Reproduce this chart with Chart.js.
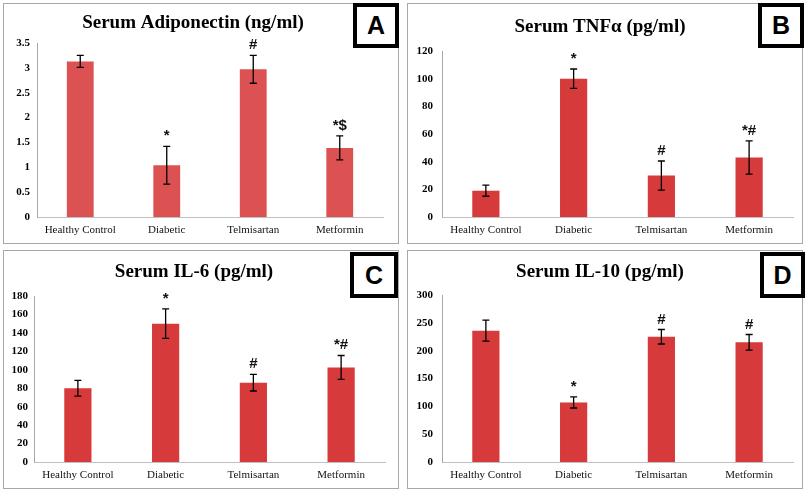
<!DOCTYPE html>
<html>
<head>
<meta charset="utf-8">
<script src="https://cdn.jsdelivr.net/npm/chart.js@4"></script>
<style>
  body { margin: 0; background: #fff; width: 809px; height: 490px; position: relative; overflow: hidden; }
  canvas { position: absolute; }
  .frame { position: absolute; border: 1.5px solid #a8a8a8; box-sizing: border-box; pointer-events: none; }
  .tag { position: absolute; border: 4px solid #000; background: #fff; box-sizing: border-box;
         font: bold 25px "Liberation Sans", Arial, sans-serif; display: flex; align-items: center; justify-content: center; }
</style>
</head>
<body>
<canvas id="chartA" width="396" height="240" style="left:3px;top:3px"></canvas>
<canvas id="chartB" width="396" height="240" style="left:407px;top:3px"></canvas>
<canvas id="chartC" width="396" height="238" style="left:3px;top:250px"></canvas>
<canvas id="chartD" width="396" height="238" style="left:407px;top:250px"></canvas>

<div class="frame" style="left:3px;top:3px;width:396px;height:241px"></div>
<div class="frame" style="left:407px;top:3px;width:396px;height:241px"></div>
<div class="frame" style="left:3px;top:250px;width:396px;height:239px"></div>
<div class="frame" style="left:407px;top:250px;width:396px;height:239px"></div>

<div class="tag" style="left:353px;top:3px;width:46px;height:45px">A</div>
<div class="tag" style="left:758px;top:3px;width:46px;height:45px">B</div>
<div class="tag" style="left:350px;top:252px;width:48px;height:46px">C</div>
<div class="tag" style="left:760px;top:252px;width:45px;height:46px">D</div>

<script>
const categories = ['Healthy Control', 'Diabetic', 'Telmisartan', 'Metformin'];

// A - adiponectin (ng/ml)
const adiponectin = [3.13, 1.04, 2.97, 1.39];
const adiponectinErr = [0.12, 0.38, 0.28, 0.24];
const adiponectinMarks = ['', '*', '#', '*$'];
const adiponectinAxis = [0, 3.5, 0.5];

// B - TNF alpha (pg/ml)
const tnfa = [19, 100, 30, 43];
const tnfaErr = [4, 7, 10.5, 12];
const tnfaMarks = ['', '*', '#', '*#'];
const tnfaAxis = [0, 120, 20];

// C - IL-6 (pg/ml)
const il6 = [80, 150, 86, 102.5];
const il6Err = [8.5, 16, 9, 13];
const il6Marks = ['', '*', '#', '*#'];
const il6Axis = [0, 180, 20];

// D - IL-10 (pg/ml)
const il10 = [236, 107, 225, 215];
const il10Err = [19, 10, 13, 14];
const il10Marks = ['', '*', '#', '#'];
const il10Axis = [0, 300, 50];

// draws the whiskers and the significance marks above them
const errorBars = {
  id: 'errorBars',
  afterDatasetsDraw(chart, args, opts) {
    const ctx = chart.ctx;
    const x = chart.scales.x, y = chart.scales.y;
    const vals = chart.data.datasets[0].data;
    ctx.save();
    ctx.strokeStyle = '#000';
    ctx.lineWidth = 1.3;
    vals.forEach((v, i) => {
      const e = opts.errors[i];
      const cx = x.getPixelForValue(i);
      const top = y.getPixelForValue(v + e);
      const bot = y.getPixelForValue(v - e);
      ctx.beginPath();
      ctx.moveTo(cx, top); ctx.lineTo(cx, bot);
      ctx.moveTo(cx - 3.5, top); ctx.lineTo(cx + 3.5, top);
      ctx.moveTo(cx - 3.5, bot); ctx.lineTo(cx + 3.5, bot);
      ctx.stroke();
      if (opts.marks[i]) {
        ctx.fillStyle = '#111';
        ctx.font = 'bold 15px "Liberation Sans", Arial, sans-serif';
        ctx.textAlign = 'center';
        ctx.textBaseline = 'alphabetic';
        ctx.fillText(opts.marks[i], cx, top - 6);
      }
    });
    ctx.restore();
  }
};

function makeChart(id, title, values, errors, marks, axis, color, lay) {
  return new Chart(document.getElementById(id), {
    type: 'bar',
    data: {
      labels: categories,
      datasets: [{
        data: values,
        backgroundColor: color,
        barPercentage: 0.31,
        categoryPercentage: 1
      }]
    },
    plugins: [errorBars],
    options: {
      responsive: false,
      animation: false,
      layout: { padding: { left: 0, right: lay.right, top: 0, bottom: 0 } },
      plugins: {
        legend: { display: false },
        tooltip: { enabled: false },
        title: {
          display: true,
          text: title,
          color: '#000',
          font: { family: '"Liberation Serif", "Times New Roman", serif', size: 19, weight: 'bold', lineHeight: 1.2 },
          padding: { top: lay.pt, bottom: lay.pb }
        },
        errorBars: { errors: errors, marks: marks }
      },
      scales: {
        x: {
          grid: { display: false, drawTicks: false },
          border: { color: '#c0c0c0', width: 1 },
          ticks: {
            padding: 7,
            color: '#111',
            font: { family: '"Liberation Serif", "Times New Roman", serif', size: 11 }
          },
          afterFit: s => { s.height = 26; }
        },
        y: {
          min: axis[0],
          max: axis[1],
          grid: { display: false, drawTicks: false },
          border: { color: '#a8a8a8', width: 1 },
          ticks: {
            stepSize: axis[2],
            padding: lay.tp,
            color: '#000',
            font: { family: '"Liberation Serif", "Times New Roman", serif', size: 11, weight: 'bold' },
            callback: v => String(v)
          },
          afterFit: s => { s.width = lay.left; }
        }
      }
    }
  });
}

makeChart('chartA', 'Serum Adiponectin (ng/ml)', adiponectin, adiponectinErr, adiponectinMarks, adiponectinAxis,
  '#dc5151', { left: 34, right: 16, pt: 8.6, pb: 8.6, tp: 7 });
makeChart('chartB', 'Serum TNF\u03b1 (pg/ml)', tnfa, tnfaErr, tnfaMarks, tnfaAxis,
  '#d63a3a', { left: 35, right: 10, pt: 12.6, pb: 12.6, tp: 9 });
makeChart('chartC', 'Serum IL-6 (pg/ml)', il6, il6Err, il6Marks, il6Axis,
  '#d63a3a', { left: 31, right: 14, pt: 10.6, pb: 12.6, tp: 6 });
makeChart('chartD', 'Serum IL-10 (pg/ml)', il10, il10Err, il10Marks, il10Axis,
  '#d63a3a', { left: 35, right: 10, pt: 10.6, pb: 11.6, tp: 9 });
</script>
</body>
</html>
